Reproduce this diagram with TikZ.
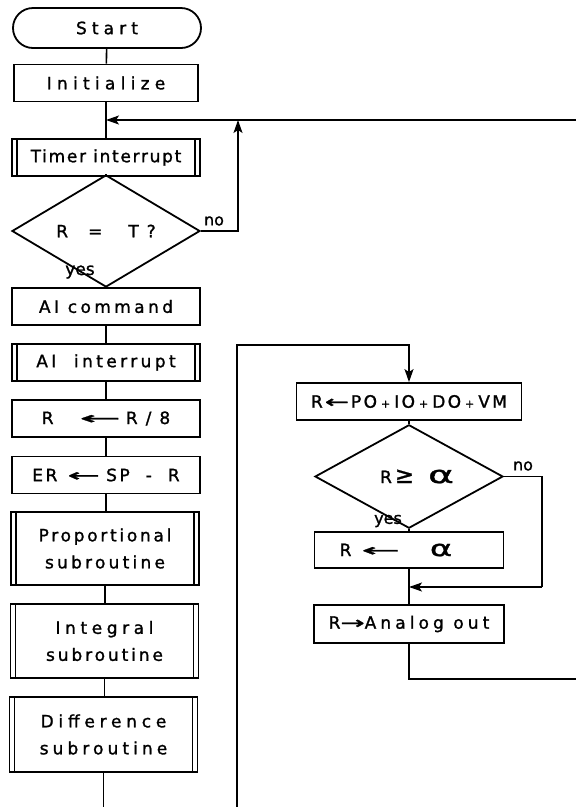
\documentclass[tikz,border=0pt]{standalone}
\usepackage{fontspec}
\setmainfont{DejaVu Sans}[RawFeature={embolden=1.3}]
\usepackage{graphicx}
\usetikzlibrary{shapes.geometric,arrows.meta}
\newcommand\lsp[2]{{\addfontfeature{LetterSpace=#1}#2}}
\newcommand\lar[1]{\scalebox{#1}[1]{←}}
\newcommand\rar[1]{\scalebox{#1}[1]{→}}
\newcommand\pls{\hspace{4pt}{\fontsize{11}{11}\selectfont +}\hspace{4pt}}
\begin{document}
\begin{tikzpicture}[x=1pt,y=-1pt,
  txt/.style={font=\fontsize{17}{21}\selectfont},
  box/.style={txt, draw, line width=1.8pt, minimum width=188pt, minimum height=37pt, inner sep=0pt, align=center},
  subbox/.style={box, path picture={
      \draw[line width=1.6pt] ([xshift=5pt]path picture bounding box.north west) -- ([xshift=5pt]path picture bounding box.south west);
      \draw[line width=1.6pt] ([xshift=-5pt]path picture bounding box.north east) -- ([xshift=-5pt]path picture bounding box.south east);}},
  term/.style={box, rounded corners=20pt, minimum height=40pt},
  dec/.style={txt, draw, diamond, line width=1.8pt, minimum width=188pt, minimum height=73pt, inner sep=0pt},
  conn/.style={line width=1.6pt},
  arr/.style={-{Stealth[length=13pt,width=9pt,inset=3pt]}},
  lab/.style={font=\fontsize{16}{18}\selectfont, inner sep=0pt}]
\useasboundingbox (0,0) rectangle (576,807);

% left column
\node[term] (start) at (107,28) {\lsp{30}{Start}};
\node[box, minimum width=184pt] (init) at (106,83) {\lsp{31}{Initialize}};
\node[subbox] (timer) at (106,157.5) {\lsp{10}{Timer interrupt}};
\node[dec] (d1) at (106,231) {R\hspace{20pt}=\hspace{26pt}T\hspace{8pt}?};
\node[box] (aicmd) at (106,306.5) {\lsp{20}{AI command}};
\node[subbox] (aiint) at (106,362.5) {\lsp{20}{AI\ \ interrupt}};
\node[box] (r8) at (106,418.5) {R\hspace{26pt}\lar{2.9}\hspace{5pt}R\hspace{8pt}/\hspace{8pt}8};
\node[box] (er) at (106,475) {\lsp{15}{ER\hspace{10pt}\lar{2.3}\hspace{6pt}SP\hspace{16pt}-\hspace{16pt}R}};
\node[subbox, minimum height=73pt] (prop) at (105,548.5) {\lsp{16}{Proportional}\\[6pt]\lsp{19}{subroutine}};
\node[subbox, minimum height=74pt] (integ) at (104.5,641) {\lsp{27}{Integral}\\[6pt]\lsp{17}{subroutine}};
\node[subbox, minimum height=75pt] (diff) at (103.5,734.5) {\lsp{28}{Difference}\\[6pt]\lsp{24}{subroutine}};

\coordinate (eR) at (576,120);
\coordinate (k1) at (238,120);
\coordinate (mb) at (103.5,807);

\draw[conn] (start) -- (init);
\draw[conn] (init) -- (timer);
\draw[conn,arr] (eR) -- (timer.north |- eR);
\draw[conn] (timer) -- (d1);
\draw[conn,arr] (d1.east) -| (k1);
\node[lab] (no1) at (214,221) {no};
\draw[conn] (d1.south) -- (aicmd.north);
\node[lab, font=\fontsize{17}{18}\selectfont] (yes1) at (80,272) {yes};
\draw[conn] (aicmd) -- (aiint);
\draw[conn] (aiint) -- (r8);
\draw[conn] (r8) -- (er);
\draw[conn] (er.south) -- (er.south |- prop.north);
\draw[conn] (prop.south) -- (prop.south |- integ.north);
\draw[conn] (integ.south) -- (integ.south |- diff.north);
\draw[conn] (diff.south) -- (mb);

% right column
\node[box, minimum width=225pt] (sum) at (409,401.5) {\lsp{14}{R\hspace{2pt}\lar{1.7}\hspace{2pt}PO\pls IO\pls DO\pls VM}};
\node[dec] (d2) at (409,476.5) {\hspace*{16pt}R\hspace{3pt}\scalebox{1.35}{≥}\hspace{14pt}\scalebox{2.3}[1.4]{α}};
\node[box, minimum width=189pt, minimum height=36pt] (ralpha) at (409,550) {R\hspace{10pt}\lar{2.7}\hspace{30pt}\scalebox{2}[1.3]{α}\hspace*{26pt}};
\node[box, minimum width=190pt, minimum height=38pt] (analog) at (409,624) {\lsp{24}{R\rar{1.7}Analog out}};

\coordinate (lb) at (237,807);
\coordinate (lt) at (237,345);
\coordinate (n2) at (542,587);
\coordinate (ob) at (576,679);

\draw[conn,arr] (lb) -- (lt) -- (lt -| sum.north) -- (sum.north);
\draw[conn] (sum) -- (d2);
\draw[conn] (d2.south) -- (ralpha.north);
\node[lab] (yes2) at (388,521) {yes};
\draw[conn] (d2.east) -| (n2);
\node[lab] (no2) at (523,466) {no};
\draw[conn,arr] (n2) -- (n2 -| ralpha.south);
\draw[conn] (ralpha) -- (analog);
\draw[conn] (analog.south) |- (ob);
\end{tikzpicture}
\end{document}
